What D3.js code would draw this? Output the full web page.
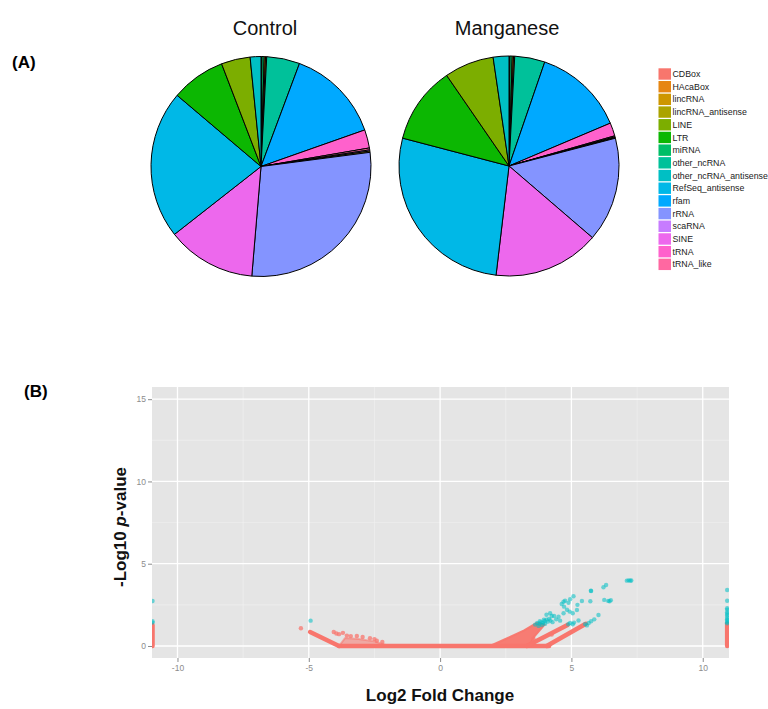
<!DOCTYPE html>
<html><head><meta charset="utf-8">
<script src="https://cdn.jsdelivr.net/npm/d3@7/dist/d3.min.js"></script>
<style>
body{margin:0;background:#fff;}
svg{display:block;font-family:"Liberation Sans",Arial,Helvetica,sans-serif;}
</style>
</head><body>
<svg id="chart" width="768" height="709"></svg>
<script>
// ---------- DATA: panel A (pie charts) ----------
const legendCategories = ["CDBox","HAcaBox","lincRNA","lincRNA_antisense","LINE","LTR","miRNA","other_ncRNA","other_ncRNA_antisense","RefSeq_antisense","rfam","rRNA","scaRNA","SINE","tRNA","tRNA_like"];
const legendColors = ["#F8766D","#E68613","#CD9600","#ABA300","#7CAE00","#0CB702","#00BE67","#00C19A","#00BFC4","#00B8E7","#00A9FF","#8494FF","#C77CFF","#ED68ED","#FF61CC","#FF68A1"];
// slice order clockwise from 12 o'clock
const sliceOrder = ["CDBox","miRNA","lincRNA","HAcaBox","other_ncRNA","rfam","tRNA","tRNA_like","scaRNA","lincRNA_antisense","rRNA","SINE","RefSeq_antisense","LTR","LINE","other_ncRNA_antisense"];
const controlValues   = [0.14,0.33,0.19,0.17,4.86,13.92,2.69,0.28,0.17,0.19,28.39,13.08,21.78,7.97,4.25,1.58];
const manganeseValues = [0.14,0.33,0.19,0.17,4.44,13.36,1.94,0.14,0.11,0.11,15.36,15.58,27.19,11.33,7.28,2.31];
const pieTitles = ["Control","Manganese"];

// ---------- DATA: panel B (volcano plot) ----------
const xTicks = [-10,-5,0,5,10];
const yTicks = [0,5,10,15];
const xMinor = [-7.5,-2.5,2.5,7.5];
const yMinor = [2.5,7.5,12.5];
// dense salmon (non-significant) point bands, as outlines
const flatBand = [[-3.85,0],[4.15,0]];
const leftStreak = [[-4.95,0.85],[-3.85,0]];
const leftEdgeBar = [[-10.95,0],[-10.95,1.28]];
const rightEdgeBar = [[10.93,0],[10.93,1.35]];
const rightStreak1 = [[3.3,0],[4.85,1.28]];
const rightStreak2 = [[4.06,0],[5.55,1.35]];
const leftFan = [[-3.85,0],[-3.62,0.48],[-3.1,0.42],[-2.5,0.28],[-1.95,0]];
const rightFan = [[1.9,0],[2.6,0.5],[3.2,0.95],[3.68,1.4],[3.98,1.3],[3.6,0.6],[3.45,0.2],[3.35,0]];
const salmonPoints = [[-5.3,1.08],[-4.05,0.85],[-3.95,0.76],[-3.85,0.72],[-3.7,0.8],[-3.55,0.63],[-3.4,0.6],[-3.17,0.61],[-2.95,0.55],[-2.67,0.47],[-2.5,0.42],[-2.41,0.32],[-2.2,0.24],[3.55,0.45],[4.25,0.7]];
// significant (cyan) points
const cyanPoints = [
 [7.11,3.97],[7.18,3.99],[7.24,3.97],[7.28,3.98],
 [6.32,3.71],[6.22,3.57],[5.74,3.36],[5.75,3.34],[5.08,3.02],
 [4.95,2.84],[4.76,2.75],[4.70,2.69],[4.89,2.63],[4.63,2.55],
 [5.40,2.73],[5.72,2.72],[6.25,2.80],[6.40,2.74],[6.50,2.78],[6.45,2.72],
 [5.23,2.50],[6.03,1.88],[5.87,1.62],[5.27,1.55],[5.10,1.42],[5.05,1.32],
 [5.21,2.19],[4.83,2.20],[4.72,2.39],[4.93,2.09],[4.70,1.99],[5.05,1.99],
 [4.51,1.78],[4.42,1.62],[4.57,1.54],[4.34,1.82],[4.19,1.99],[4.25,1.82],[4.05,1.90],
 [3.62,1.30],[3.70,1.40],[3.78,1.35],[3.85,1.45],[3.92,1.40],[3.98,1.52],[4.05,1.60],
 [4.10,1.48],[4.15,1.65],[3.88,1.28],[3.75,1.22],[4.00,1.35],[3.95,1.60],[3.80,1.50],
 [4.20,1.55],[4.28,1.45],[5.52,1.33],[5.59,1.25],[5.66,1.40],[5.75,1.50],[4.88,1.32],[4.95,1.40],
 [-4.93,1.54],[-10.95,1.42],[-10.95,1.50],[-10.95,2.73],
 [10.93,1.38],[10.93,1.45],[10.93,1.55],[10.93,1.62],[10.93,1.72],[10.93,1.85],[10.93,1.95],
 [10.93,2.05],[10.93,2.2],[10.93,2.3],[10.93,2.75],[10.93,3.4]
];

// ---------- DRAW ----------
const svg = d3.select("#chart");
const colorOf = d3.scaleOrdinal().domain(legendCategories).range(legendColors);

svg.append("text").attr("x",12).attr("y",68).attr("font-size",17).attr("font-weight","bold").attr("fill","#000").text("(A)");
svg.append("text").attr("x",24).attr("y",397).attr("font-size",17).attr("font-weight","bold").attr("fill","#000").text("(B)");

const pieGen = d3.pie().sort(null).value(d=>d.v);
const arcGen = d3.arc().innerRadius(0).outerRadius(110);
const pieCenters = [[261,166.5],[509,166]];
[controlValues, manganeseValues].forEach((vals,i)=>{
  const g = svg.append("g").attr("transform",`translate(${pieCenters[i][0]},${pieCenters[i][1]})`);
  const data = sliceOrder.map((c,j)=>({c, v: vals[j]}));
  g.selectAll("path").data(pieGen(data)).join("path")
    .attr("d",arcGen).attr("fill",d=>colorOf(d.data.c))
    .attr("stroke","#000").attr("stroke-width",1).attr("stroke-linejoin","round");
  svg.append("text").attr("x",pieCenters[i][0]+(i===0?4:-2)).attr("y",35)
    .attr("text-anchor","middle").attr("font-size",20).attr("fill","#111").text(pieTitles[i]);
});

// legend
const lg = svg.append("g");
legendCategories.forEach((c,i)=>{
  const cy = 74 + i*12.69;
  lg.append("rect").attr("x",658.5).attr("y",cy-5.7).attr("width",12.5).attr("height",11.4).attr("fill",legendColors[i]);
  lg.append("text").attr("x",672.5).attr("y",cy+3.1).attr("font-size",8.8).attr("fill","#1a1a1a").text(c);
});

// volcano panel
const P = {l:152, r:729, t:387, b:658};
const x = d3.scaleLinear().domain([-10.97,11.0]).range([P.l,P.r]);
const y = d3.scaleLinear().domain([-0.73,15.74]).range([P.b,P.t]);
const vg = svg.append("g");
vg.append("rect").attr("x",P.l).attr("y",P.t).attr("width",P.r-P.l).attr("height",P.b-P.t).attr("fill","#E5E5E5");
vg.selectAll(".xm").data(xMinor).join("line").attr("x1",d=>x(d)).attr("x2",d=>x(d)).attr("y1",P.t).attr("y2",P.b).attr("stroke","#F2F2F2").attr("stroke-width",0.6);
vg.selectAll(".ym").data(yMinor).join("line").attr("y1",d=>y(d)).attr("y2",d=>y(d)).attr("x1",P.l).attr("x2",P.r).attr("stroke","#F2F2F2").attr("stroke-width",0.6);
vg.selectAll(".xM").data(xTicks).join("line").attr("x1",d=>x(d)).attr("x2",d=>x(d)).attr("y1",P.t).attr("y2",P.b).attr("stroke","#fff").attr("stroke-width",1.3);
vg.selectAll(".yM").data(yTicks).join("line").attr("y1",d=>y(d)).attr("y2",d=>y(d)).attr("x1",P.l).attr("x2",P.r).attr("stroke","#fff").attr("stroke-width",1.3);

svg.append("defs").append("clipPath").attr("id","clipP").append("rect").attr("x",P.l).attr("y",P.t).attr("width",P.r-P.l).attr("height",P.b-P.t);
const dg = svg.append("g").attr("clip-path","url(#clipP)");
const line = d3.line().x(d=>x(d[0])).y(d=>y(d[1]));
const salmon = "#F8766D", cyan = "#00BFC4";
[leftFan, rightFan].forEach((poly,i)=>{
  dg.append("path").attr("d",line(poly)+"Z").attr("fill",salmon).attr("fill-opacity",i===0?0.55:0.95)
    .attr("stroke",salmon).attr("stroke-width",2).attr("stroke-opacity",i===0?0.55:0.95).attr("stroke-linejoin","round");
});
[flatBand,leftStreak,rightStreak1,rightStreak2,leftEdgeBar,rightEdgeBar].forEach(seg=>{
  dg.append("path").attr("d",line(seg)).attr("fill","none").attr("stroke",salmon).attr("stroke-width",4.5).attr("stroke-linecap","round");
});
dg.selectAll(".sp").data(salmonPoints).join("circle").attr("cx",d=>x(d[0])).attr("cy",d=>y(d[1])).attr("r",2.2).attr("fill",salmon).attr("fill-opacity",0.75);
dg.selectAll(".cp").data(cyanPoints).join("circle").attr("cx",d=>x(d[0])).attr("cy",d=>y(d[1])).attr("r",2.2).attr("fill",cyan).attr("fill-opacity",0.55);

// axes
const xAxis = svg.append("g").attr("transform",`translate(0,${P.b})`)
  .call(d3.axisBottom(x).tickValues(xTicks).tickFormat(d=>String(d)).tickSize(4).tickPadding(3));
const yAxis = svg.append("g").attr("transform",`translate(${P.l},0)`)
  .call(d3.axisLeft(y).tickValues(yTicks).tickFormat(d=>String(d)).tickSize(4).tickPadding(2));
[xAxis,yAxis].forEach(a=>{
  a.select(".domain").remove();
  a.selectAll(".tick line").attr("stroke","#8c8c8c");
  a.selectAll(".tick text").attr("fill","#8c8c8c").attr("font-size",8.5).attr("font-family","Liberation Sans, Arial, sans-serif");
});
svg.append("text").attr("x",440).attr("y",701).attr("text-anchor","middle").attr("font-size",17).attr("font-weight","bold").attr("fill","#111").text("Log2 Fold Change");
const yl = svg.append("text").attr("transform","translate(126,527) rotate(-90)").attr("text-anchor","middle").attr("font-size",17).attr("font-weight","bold").attr("fill","#111");
yl.append("tspan").text("-Log10 ");
yl.append("tspan").attr("font-style","italic").text("p");
yl.append("tspan").text("-value");
</script>
</body></html>
